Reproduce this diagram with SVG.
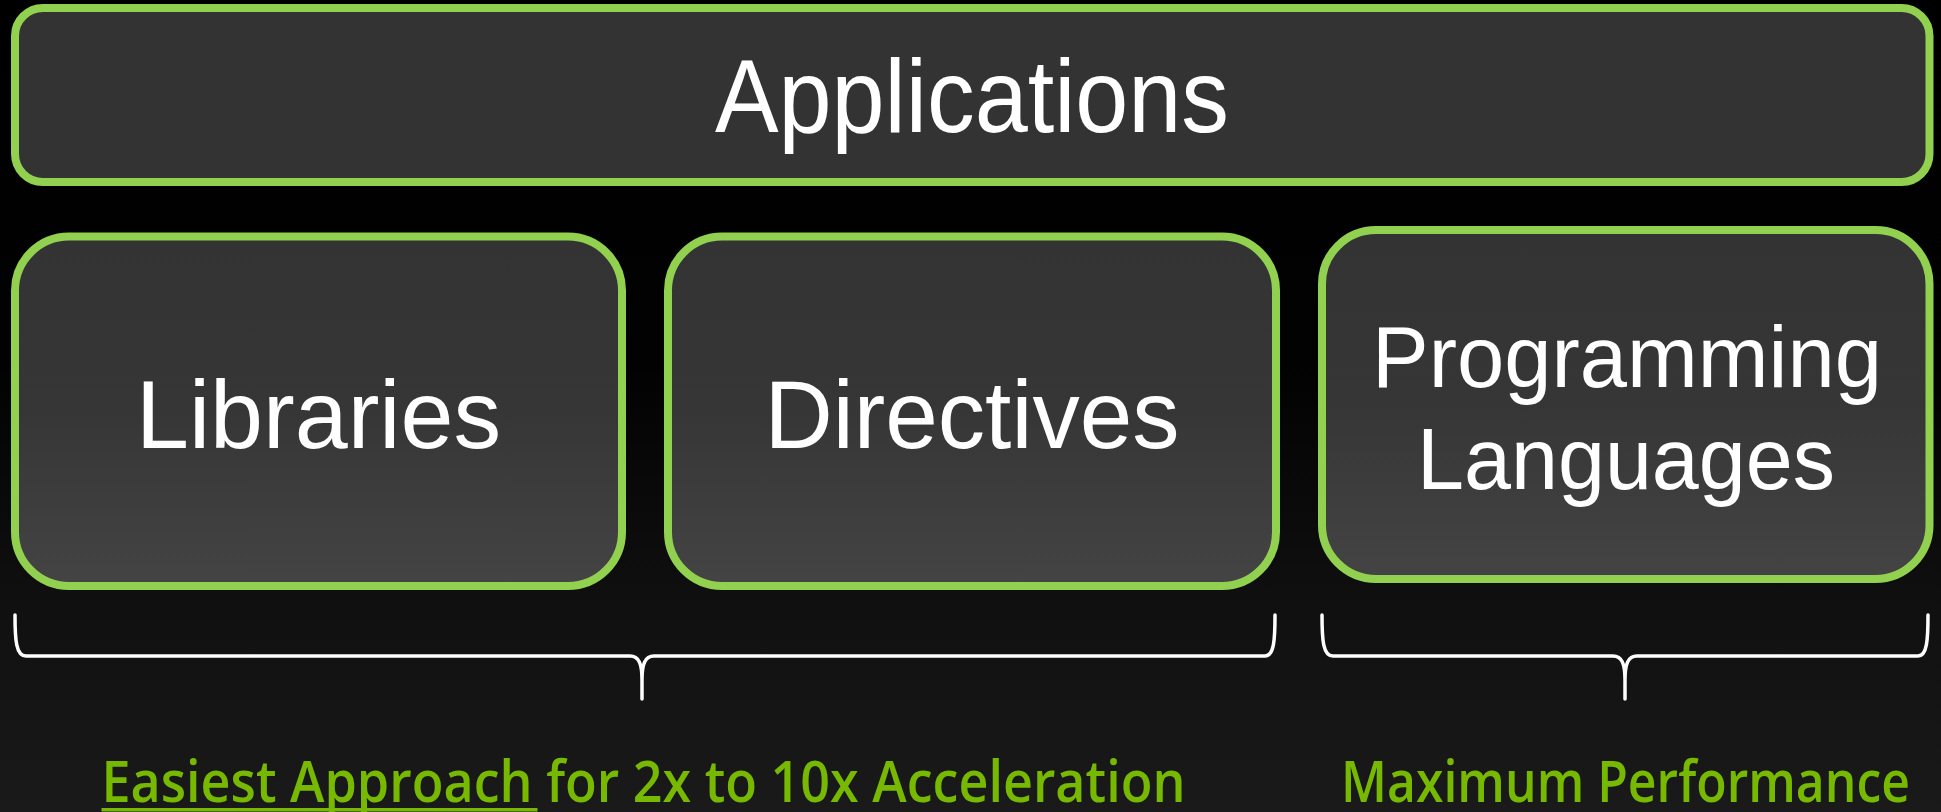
<svg xmlns="http://www.w3.org/2000/svg" width="1941" height="812" viewBox="0 0 1941 812">
  <defs>
    <linearGradient id="bg" x1="0" y1="0" x2="0" y2="1">
      <stop offset="0" stop-color="#000000"/>
      <stop offset="0.45" stop-color="#020202"/>
      <stop offset="0.75" stop-color="#101010"/>
      <stop offset="1" stop-color="#1a1a1a"/>
    </linearGradient>
    <linearGradient id="boxFill" x1="0" y1="0" x2="0" y2="1">
      <stop offset="0" stop-color="#333333"/>
      <stop offset="0.5" stop-color="#363636"/>
      <stop offset="1" stop-color="#444444"/>
    </linearGradient>
    <style>
      .box { stroke: #92D050; stroke-width: 8; }
      .top { fill: #333333; }
      .mid { fill: url(#boxFill); }
      .label { fill: #ffffff; font-family: "Liberation Sans", Arial, sans-serif; text-anchor: middle; }
      .brace { fill: none; stroke: #ffffff; stroke-width: 3.5; stroke-linecap: round; stroke-linejoin: round; }
      .caption { fill: #76B900; font-family: "Open Sans", "DejaVu Sans", sans-serif; font-weight: 600; font-size: 57px; }
    </style>
  </defs>

  <rect width="1941" height="812" fill="url(#bg)"/>

  <g id="applications">
    <rect class="box top" x="15" y="8" width="1914.5" height="174" rx="28" ry="28"/>
    <text class="label" x="972" y="132" font-size="103" textLength="514" lengthAdjust="spacingAndGlyphs">Applications</text>
  </g>

  <g id="libraries">
    <rect class="box mid" x="15" y="236.5" width="607" height="349.5" rx="54" ry="54"/>
    <text class="label" x="318.5" y="448" font-size="97" textLength="365" lengthAdjust="spacingAndGlyphs">Libraries</text>
  </g>

  <g id="directives">
    <rect class="box mid" x="668" y="236.5" width="608" height="349.5" rx="54" ry="54"/>
    <text class="label" x="972" y="448" font-size="97" textLength="415" lengthAdjust="spacingAndGlyphs">Directives</text>
  </g>

  <g id="programming-languages">
    <rect class="box mid" x="1322" y="230" width="607.5" height="349" rx="54" ry="54"/>
    <text class="label" x="1627" y="387" font-size="87" textLength="510" lengthAdjust="spacingAndGlyphs">Programming</text>
    <text class="label" x="1626" y="489" font-size="87" textLength="418" lengthAdjust="spacingAndGlyphs">Languages</text>
  </g>

  <g id="connectors">
    <!-- brace under Libraries + Directives -->
    <path class="brace" d="M15,615 C15,640 16,656 26,656 L630,656 C639,656 642,664 642,680 L642,699 M642,680 C642,664 645,656 654,656 L1265,656 C1274,656 1275,640 1275,615"/>
    <!-- brace under Programming Languages -->
    <path class="brace" d="M1322,615 C1322,640 1323,656 1333,656 L1613,656 C1622,656 1625,664 1625,680 L1625,699 M1625,680 C1625,664 1628,656 1637,656 L1918,656 C1927,656 1928,640 1928,615"/>
  </g>

  <g id="caption-easiest">
    <text class="caption" x="101.5" y="802" textLength="1084" lengthAdjust="spacingAndGlyphs">Easiest Approach for 2x to 10x Acceleration</text>
    <rect x="101.5" y="808" width="436" height="3.5" fill="#76B900"/>
  </g>

  <g id="caption-maximum">
    <text class="caption" x="1341" y="802" textLength="569" lengthAdjust="spacingAndGlyphs">Maximum Performance</text>
  </g>
</svg>
